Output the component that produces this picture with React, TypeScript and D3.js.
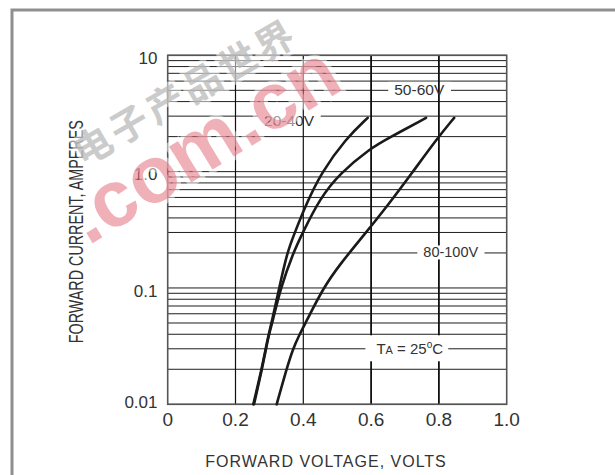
import React, { useEffect, useRef } from 'react';
import * as d3 from 'd3';

// forward voltage (V) / forward current (A)
const v2040 = [0.2525, 0.277, 0.289, 0.297, 0.307, 0.329, 0.352, 0.373, 0.408, 0.452, 0.526, 0.59];
const i2040 = [0.01, 0.02, 0.03, 0.039, 0.051, 0.1, 0.2, 0.29, 0.52, 0.97, 1.93, 2.9];

const v5060 = [0.2546, 0.278, 0.29, 0.298, 0.309, 0.333, 0.37, 0.396, 0.449, 0.508, 0.597, 0.65, 0.762];
const i5060 = [0.01, 0.02, 0.03, 0.039, 0.051, 0.1, 0.2, 0.29, 0.59, 0.967, 1.58, 1.93, 2.9];

const v80100 = [0.3215, 0.3504, 0.3696, 0.3873, 0.408, 0.458, 0.508, 0.579, 0.65, 0.72, 0.795, 0.845];
const i80100 = [0.01, 0.02, 0.03, 0.039, 0.051, 0.099, 0.16, 0.285, 0.516, 0.967, 1.93, 2.9];

const xTicks = [0, 0.2, 0.4, 0.6, 0.8, 1.0];
const xTickLabels = ['0', '0.2', '0.4', '0.6', '0.8', '1.0'];
const yTicks = [0.01, 0.1, 1, 10];
const yTickLabels = ['0.01', '0.1', '1.0', '10'];

// series label text and where it sits (voltage, current)
const seriesLabels = ['20-40V', '50-60V', '80-100V'];
const labelV = [0.358, 0.742, 0.835];
const labelI = [3, 5, 0.2];

const App: React.FC = () => {
  const svgRef = useRef<SVGSVGElement | null>(null);

  useEffect(() => {
    if (!svgRef.current) return;
    const W = 615, H = 475;
    const left = 167.7, right = 506.7, top = 55.3, bottom = 404.3;
    const font = 'Liberation Sans, Arial, Helvetica, sans-serif';

    d3.select(svgRef.current).selectAll('*').remove();
    const svg = d3.select(svgRef.current).attr('width', W).attr('height', H);

    svg.append('rect').attr('width', W).attr('height', H).attr('fill', '#fff');

    // outer frame (runs off the right and bottom)
    svg.append('rect')
      .attr('x', 12).attr('y', 10)
      .attr('width', 700).attr('height', 600)
      .attr('fill', 'none').attr('stroke', '#8f8f8f').attr('stroke-width', 3);

    const x = d3.scaleLinear().domain([0, 1]).range([left, right]);
    const y = d3.scaleLog().domain([0.01, 10]).range([bottom, top]);

    // horizontal log grid
    const hVals: number[] = [];
    for (let e = -2; e <= 0; e++) {
      for (let k = 1; k <= 9; k++) hVals.push(k * Math.pow(10, e));
    }
    hVals.push(10);
    const hGrid = svg.append('g');
    hGrid.selectAll('line').data(hVals).enter().append('line')
      .attr('x1', left).attr('x2', right)
      .attr('y1', d => y(d)).attr('y2', d => y(d))
      .attr('stroke', '#1e1e1e').attr('stroke-width', 1);

    const lowBoxes = svg.append('g');
    const vGrid = svg.append('g');
    const highBoxes = svg.append('g');
    const textLayer = svg.append('g');

    vGrid.selectAll('line').data(xTicks.slice(1, -1)).enter().append('line')
      .attr('x1', d => x(d)).attr('x2', d => x(d))
      .attr('y1', top).attr('y2', bottom)
      .attr('stroke', '#111').attr('stroke-width', d => (d > 0.5 ? 1.8 : 1.2));

    // series labels with white boxes that break the grid
    seriesLabels.forEach((lab, i) => {
      const t = textLayer.append('text')
        .attr('x', x(labelV[i])).attr('y', y(labelI[i]) + (i === 0 ? 9.5 : 4.5))
        .attr('text-anchor', 'middle')
        .attr('font-family', font).attr('font-size', i === 2 ? 14.5 : 15.5)
        .attr('fill', '#333')
        .text(lab);
      const b = (t.node() as SVGTextElement).getBBox();
      (i < 2 ? lowBoxes : highBoxes).append('rect')
        .attr('x', b.x - 6).attr('y', b.y + 1)
        .attr('width', b.width + 12).attr('height', b.height - 2)
        .attr('fill', '#fff');
    });

    // TA = 25°C
    const ta = textLayer.append('text')
      .attr('x', x(0.714)).attr('y', y(0.03) + 5.5)
      .attr('text-anchor', 'middle')
      .attr('font-family', font).attr('font-size', 15)
      .attr('fill', '#333');
    ta.append('tspan').text('T');
    ta.append('tspan').attr('font-size', 11).text('A');
    ta.append('tspan').text(' = 25');
    ta.append('tspan').attr('font-size', 10).attr('dy', -6).text('o');
    ta.append('tspan').attr('dy', 6).text('C');
    const tb = (ta.node() as SVGTextElement).getBBox();
    highBoxes.append('rect')
      .attr('x', tb.x - 11).attr('y', tb.y - 4)
      .attr('width', tb.width + 16).attr('height', tb.height + 8)
      .attr('fill', '#fff');

    // plot border
    svg.append('rect')
      .attr('x', left).attr('y', top)
      .attr('width', right - left).attr('height', bottom - top)
      .attr('fill', 'none').attr('stroke', '#555').attr('stroke-width', 1.6);

    // curves
    const line = d3.line<[number, number]>()
      .x(d => x(d[0])).y(d => y(d[1]))
      .curve(d3.curveBasis);
    const series: [number[], number[]][] = [[v2040, i2040], [v5060, i5060], [v80100, i80100]];
    svg.append('g').selectAll('path').data(series).enter().append('path')
      .attr('d', d => line(d[0].map((v, k) => [v, d[1][k]] as [number, number])))
      .attr('fill', 'none').attr('stroke', '#1a1a1a').attr('stroke-width', 2.6)
      .attr('stroke-linecap', 'round');

    // tick labels
    svg.append('g').selectAll('text').data(yTicks).enter().append('text')
      .attr('x', 157.5)
      .attr('y', (d, i) => y(d) + (i === 0 ? -2.5 : 2.5) + 6.1)
      .attr('text-anchor', 'end')
      .attr('font-family', font).attr('font-size', 17)
      .attr('fill', '#333')
      .text((d, i) => yTickLabels[i]);

    svg.append('g').selectAll('text').data(xTicks).enter().append('text')
      .attr('x', d => x(d)).attr('y', 426)
      .attr('text-anchor', 'middle')
      .attr('font-family', font).attr('font-size', 19)
      .attr('fill', '#333')
      .text((d, i) => xTickLabels[i]);

    // axis titles
    svg.append('text')
      .attr('x', 326).attr('y', 466.5)
      .attr('text-anchor', 'middle')
      .attr('font-family', font).attr('font-size', 16)
      .attr('letter-spacing', 1)
      .attr('fill', '#333')
      .text('FORWARD VOLTAGE, VOLTS');

    svg.append('text')
      .attr('transform', 'translate(83, 231.7) rotate(-90)')
      .attr('text-anchor', 'middle')
      .attr('font-family', font).attr('font-size', 20)
      .attr('textLength', 223).attr('lengthAdjust', 'spacingAndGlyphs')
      .attr('fill', '#333')
      .text('FORWARD CURRENT, AMPERES');

    // watermark
    const wm = svg.append('g').attr('pointer-events', 'none');
    wm.append('text')
      .attr('transform', 'translate(184, 90) rotate(-30)')
      .attr('text-anchor', 'middle').attr('dominant-baseline', 'central')
      .attr('font-family', 'Noto Sans CJK SC, sans-serif').attr('font-weight', 700)
      .attr('font-size', 38).attr('letter-spacing', 4)
      .attr('fill', '#b4b4b4').attr('fill-opacity', 0.7)
      .attr('stroke', '#fff').attr('stroke-width', 7).attr('stroke-opacity', 0.5)
      .attr('paint-order', 'stroke')
      .text('电子产品世界');
    wm.append('text')
      .attr('transform', 'translate(88, 246) rotate(-31.5)')
      .attr('font-family', 'Liberation Sans, Arial, sans-serif').attr('font-weight', 700)
      .attr('font-size', 80)
      .attr('fill', '#e36f7d').attr('fill-opacity', 0.55)
      .attr('stroke', '#fff').attr('stroke-width', 8).attr('stroke-opacity', 0.5)
      .attr('paint-order', 'stroke')
      .text('.com.cn');
  }, []);

  return (
    <div style={{ position: 'absolute', left: 0, top: 0 }}>
      <svg ref={svgRef} style={{ display: 'block' }}></svg>
    </div>
  );
};

export default App;
